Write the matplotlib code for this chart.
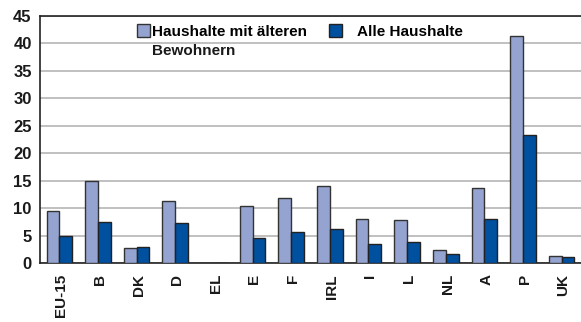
import numpy as np
import matplotlib.pyplot as plt
from matplotlib.patches import Patch

plt.rcParams['font.family'] = ['Liberation Sans', 'DejaVu Sans']

laender = ["EU-15", "B", "DK", "D", "EL", "E", "F", "IRL", "I", "L", "NL", "A", "P", "UK"]
aeltere = [9.4, 15.0, 2.7, 11.3, 0, 10.4, 11.8, 13.95, 8.0, 7.75, 2.4, 13.6, 41.3, 1.35]
alle = [4.85, 7.5, 3.0, 7.3, 0, 4.55, 5.65, 6.2, 3.45, 3.8, 1.55, 8.05, 23.3, 1.1]

hell = "#94A3D0"
dunkel = "#0050A0"

x = np.arange(len(laender))
b = 0.33

fig = plt.figure(figsize=(5.81, 3.22), dpi=100)
ax = fig.add_axes([40 / 581, 59 / 322, 541 / 581, 247 / 322])

ax.bar(x - b / 2, aeltere, b, color=hell, edgecolor="#333333", linewidth=1.0, zorder=3)
ax.bar(x + b / 2, alle, b, color=dunkel, edgecolor="#222222", linewidth=1.0, zorder=3)

ax.set_xlim(-0.5, len(laender) - 0.5)
ax.set_ylim(0, 45)
ax.set_yticks(range(0, 46, 5))
ax.yaxis.grid(True, color="#BBBBBB", linewidth=1.3, zorder=0)
ax.set_xticks(x + 0.05)
ax.set_xticklabels(laender, rotation=90, fontsize=11, fontweight="bold", color="#1a1a1a")
ax.tick_params(axis="y", labelsize=12, length=0, pad=6, labelcolor="#1a1a1a")
ax.tick_params(axis="x", length=0, pad=8)
for t in ax.get_yticklabels():
    t.set_fontweight("bold")

ax.spines["right"].set_visible(False)
for s in ["left", "bottom", "top"]:
    ax.spines[s].set_color("#222222")
    ax.spines[s].set_linewidth(1.2)

# Legende: zwei Einträge, der erste zweizeilig
lprops = {"weight": "bold", "size": 11}
leg1 = fig.legend(handles=[Patch(facecolor=hell, edgecolor="#333333")],
                  labels=["Haushalte mit älteren"], loc="upper left",
                  bbox_to_anchor=(137 / 581, 1 - 24 / 322), frameon=False, prop=lprops,
                  handlelength=0.85, handleheight=0.9, handletextpad=0.15,
                  borderpad=0, borderaxespad=0)
leg2 = fig.legend(handles=[Patch(facecolor=dunkel, edgecolor="#222222")],
                  labels=["Alle Haushalte"], loc="upper left",
                  bbox_to_anchor=(329 / 581, 1 - 24 / 322), frameon=False, prop=lprops,
                  handlelength=0.85, handleheight=0.9, handletextpad=0.98,
                  borderpad=0, borderaxespad=0)
fig.text(152 / 581, 1 - 55 / 322, "Bewohnern", fontsize=11, fontweight="bold",
         va="baseline", ha="left", color="#1a1a1a")

fig.savefig("out.png", dpi=100)
